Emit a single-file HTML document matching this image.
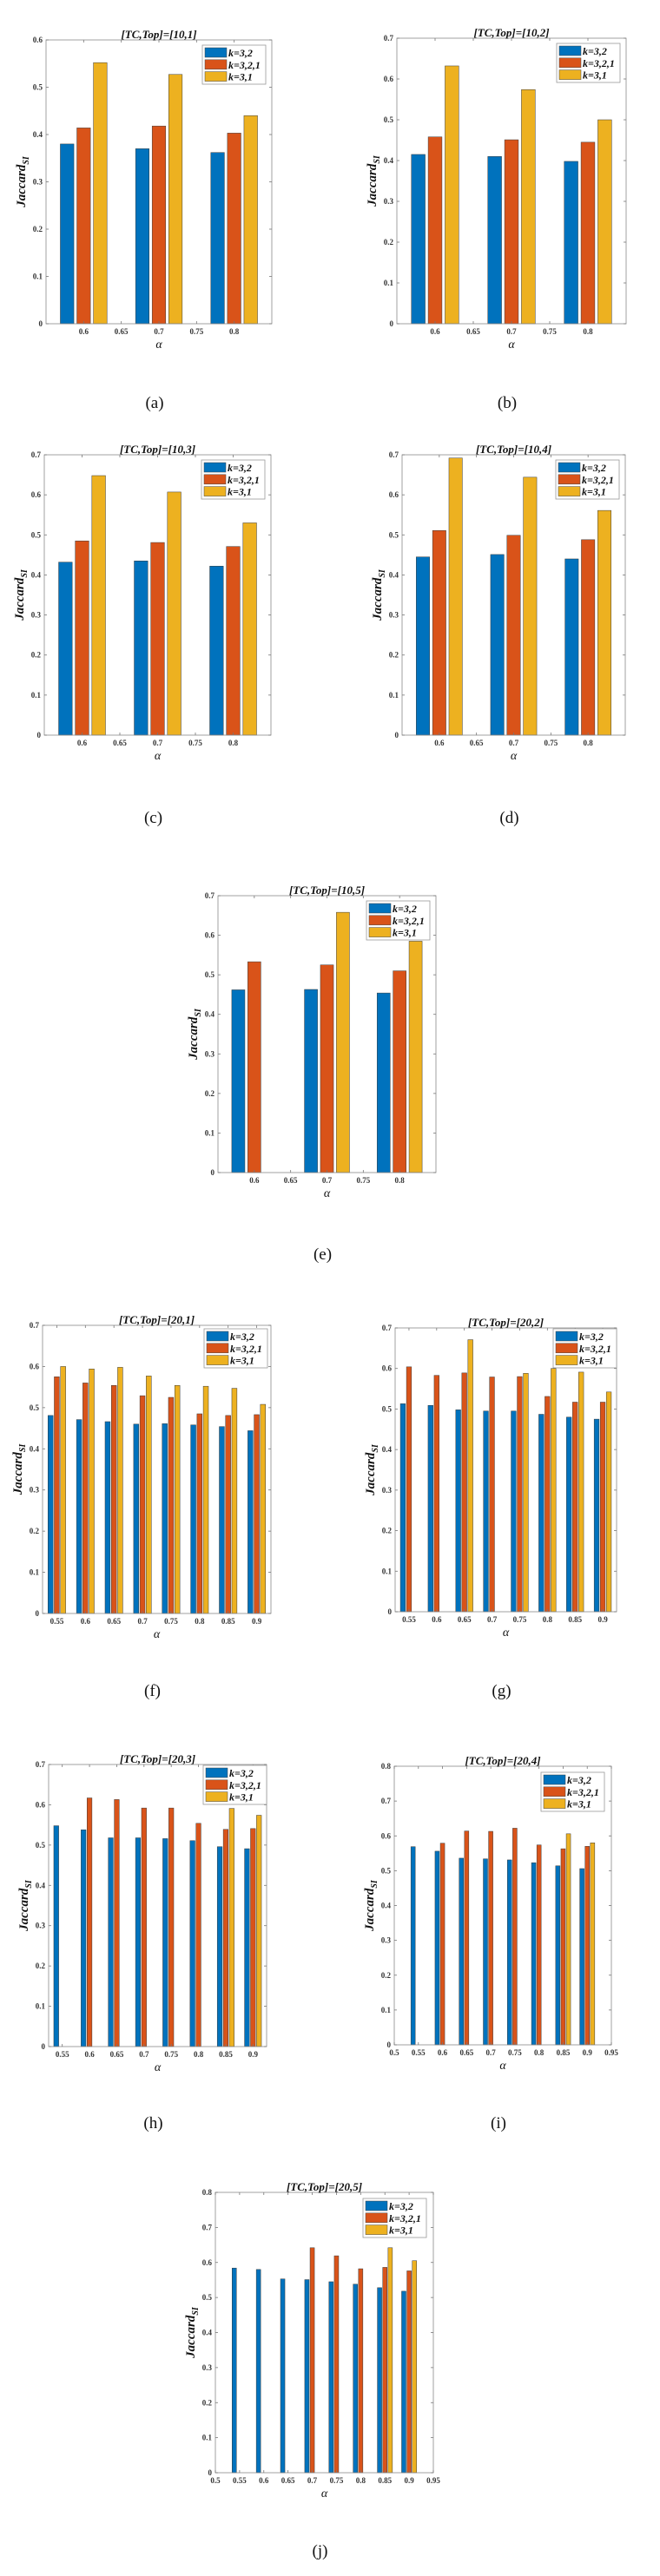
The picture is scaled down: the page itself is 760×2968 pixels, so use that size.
<!DOCTYPE html>
<html>
<head>
<meta charset="utf-8">
<style>
html,body{margin:0;padding:0;background:#fff;}
svg{display:block;}
.tick{font-family:"Liberation Serif",serif;font-weight:bold;font-size:9px;fill:#333;}
.title{font-family:"Liberation Serif",serif;font-weight:bold;font-style:italic;font-size:13px;fill:#111;}
.leg{font-family:"Liberation Serif",serif;font-weight:bold;font-style:italic;font-size:12px;fill:#111;}
.ylab{font-family:"Liberation Serif",serif;font-weight:bold;font-style:italic;font-size:15px;fill:#111;}
.xlab{font-family:"Liberation Serif",serif;font-style:italic;font-size:14px;fill:#111;}
.cap{font-family:"Liberation Serif",serif;font-size:19px;fill:#111;}
</style>
</head>
<body>
<svg id="fig" xmlns="http://www.w3.org/2000/svg" width="760" height="2968" viewBox="0 0 760 2968"></svg>
<script>
// ---- data ----
const seriesNames = ["k=3,2","k=3,2,1","k=3,1"];
const colors = ["#0072BD","#D95319","#EDB120"];

const catsA = [0.6,0.7,0.8];
const catsB = [0.55,0.6,0.65,0.7,0.75,0.8,0.85,0.9];

const xticks3 = ["0.6","0.65","0.7","0.75","0.8"];
const xticks8 = ["0.55","0.6","0.65","0.7","0.75","0.8","0.85","0.9"];
const xticks10 = ["0.5","0.55","0.6","0.65","0.7","0.75","0.8","0.85","0.9","0.95"];
const yticks6 = ["0","0.1","0.2","0.3","0.4","0.5","0.6"];
const yticks7 = ["0","0.1","0.2","0.3","0.4","0.5","0.6","0.7"];
const yticks8 = ["0","0.1","0.2","0.3","0.4","0.5","0.6","0.7","0.8"];

const a_s1 = [0.380,0.370,0.362];
const a_s2 = [0.414,0.418,0.403];
const a_s3 = [0.552,0.527,0.440];

const b_s1 = [0.415,0.410,0.398];
const b_s2 = [0.458,0.451,0.445];
const b_s3 = [0.632,0.574,0.500];

const c_s1 = [0.432,0.435,0.422];
const c_s2 = [0.485,0.481,0.471];
const c_s3 = [0.648,0.607,0.530];

const d_s1 = [0.445,0.451,0.440];
const d_s2 = [0.511,0.499,0.488];
const d_s3 = [0.692,0.644,0.561];

const e_s1 = [0.462,0.463,0.454];
const e_s2 = [0.533,0.525,0.510];
const e_s3 = [0,0.658,0.585];

const f_s1 = [0.481,0.471,0.466,0.460,0.461,0.458,0.454,0.444];
const f_s2 = [0.575,0.560,0.554,0.529,0.525,0.485,0.481,0.483];
const f_s3 = [0.600,0.594,0.598,0.577,0.554,0.552,0.547,0.508];

const g_s1 = [0.513,0.509,0.498,0.495,0.495,0.487,0.480,0.475];
const g_s2 = [0.604,0.583,0.589,0.579,0.580,0.531,0.517,0.517];
const g_s3 = [0,0,0.671,0,0.588,0.600,0.591,0.542];

const h_s1 = [0.548,0.538,0.518,0.518,0.516,0.511,0.496,0.491];
const h_s2 = [0,0.617,0.613,0.592,0.592,0.554,0.539,0.541];
const h_s3 = [0,0,0,0,0,0,0.591,0.574];

const i_s1 = [0.569,0.556,0.536,0.534,0.531,0.523,0.514,0.506];
const i_s2 = [0,0.579,0.614,0.613,0.622,0.574,0.563,0.570];
const i_s3 = [0,0,0,0,0,0,0.606,0.580];

const j_s1 = [0.584,0.580,0.553,0.551,0.545,0.538,0.528,0.518];
const j_s2 = [0,0,0,0.642,0.619,0.582,0.586,0.576];
const j_s3 = [0,0,0,0,0,0,0.642,0.605];

const svg = document.getElementById('fig');
const NS = "http://www.w3.org/2000/svg";
function mk(tag, attrs, parent){
  const e = document.createElementNS(NS, tag);
  for (const k in attrs) e.setAttribute(k, attrs[k]);
  (parent||svg).appendChild(e);
  return e;
}

function chart(cfg){
  const g = mk('g', {});
  
  
  const L=cfg.L, R=cfg.R, T=cfg.T, B=cfg.B;
  const xs = v => L + (v - cfg.xmin)/(cfg.xmax - cfg.xmin)*(R-L);
  const ys = v => B - v/cfg.ymax*(B-T);
  const spacing = cfg.cats.length>1 ? (cfg.cats[1]-cfg.cats[0]) : 0.1;
  const off = 0.22*spacing, bw = 0.18*spacing;
  const series = [cfg.s1, cfg.s2, cfg.s3];
  series.forEach((vals, si) => {
    vals.forEach((v, ci) => {
      if (v <= 0) return;
      const cx = cfg.cats[ci] + (si-1)*off;
      const x0 = xs(cx - bw/2), x1 = xs(cx + bw/2);
      const r = mk('rect', {x:x0, y:ys(v), width:x1-x0, height:ys(0)-ys(v), fill:colors[si], stroke:'#3a3a3a', 'stroke-width':0.5}, g);
      
      
    });
  });
  const box = mk('rect', {x:L, y:T, width:R-L, height:B-T, fill:'none', stroke:'#8a8a8a', 'stroke-width':0.8}, g);
  
  
  cfg.yt.forEach(t => {
    const v = parseFloat(t), y = ys(v);
    mk('line', {x1:L, x2:L+3, y1:y, y2:y, stroke:'#777', 'stroke-width':0.8}, g);
    mk('line', {x1:R, x2:R-3, y1:y, y2:y, stroke:'#777', 'stroke-width':0.8}, g);
    const tx = mk('text', {x:L-4, y:y+3, 'text-anchor':'end', class:'tick'}, g);
    tx.textContent = t;
    
    
  });
  cfg.xt.forEach(t => {
    const v = parseFloat(t), x = xs(v);
    mk('line', {x1:x, x2:x, y1:B, y2:B-3, stroke:'#777', 'stroke-width':0.8}, g);
    mk('line', {x1:x, x2:x, y1:T, y2:T+3, stroke:'#777', 'stroke-width':0.8}, g);
    const tx = mk('text', {x:x, y:B+12, 'text-anchor':'middle', class:'tick'}, g);
    tx.textContent = t;
    
    
  });
  const ti = mk('text', {x:(L+R)/2, y:T-2, 'text-anchor':'middle', class:'title'}, g);
  ti.textContent = cfg.title;
  
  
  const xl = mk('text', {x:(L+R)/2, y:B+28, 'text-anchor':'middle', class:'xlab'}, g);
  xl.textContent = 'α';
  
  
  const yx = L-24, yy = (T+B)/2;
  const yl = mk('text', {x:yx, y:yy, 'text-anchor':'middle', class:'ylab', transform:'rotate(-90 '+yx+' '+yy+')'}, g);
  yl.textContent = 'Jaccard';
  const sub = mk('tspan', {'font-size':'10px', dy:'4'}, yl);
  sub.textContent = 'SI';
  
  
  const lw = 73, lh = 45;
  const lx = R - cfg.legR - lw, ly = T + cfg.legT;
  const lg = mk('g', {}, g);
  
  
  mk('rect', {x:lx, y:ly, width:lw, height:lh, fill:'#fff', stroke:'#999', 'stroke-width':0.8}, lg);
  seriesNames.forEach((n, i) => {
    const ey = ly + 3 + i*13.8;
    const sw = mk('rect', {x:lx+3, y:ey, width:25, height:11, fill:colors[i], stroke:'#444', 'stroke-width':0.5}, lg);
    
    
    const lt = mk('text', {x:lx+30, y:ey+10, class:'leg'}, lg);
    lt.textContent = n;
    
    
  });
  const cp = mk('text', {x:(L+R)/2 - 5, y:cfg.cap, 'text-anchor':'middle', class:'cap'}, g);
  cp.textContent = '(' + cfg.id + ')';
  
  
}

const three = {cats:catsA, xt:xticks3, xmin:0.55, xmax:0.85, legR:7, legT:6};
chart(Object.assign({}, three, {id:'a', title:'[TC,Top]=[10,1]', L:53, R:313, T:46, B:373, ymax:0.6, yt:yticks6, s1:a_s1, s2:a_s2, s3:a_s3, cap:470}));
chart(Object.assign({}, three, {id:'b', title:'[TC,Top]=[10,2]', L:457, R:721, T:44, B:373, ymax:0.7, yt:yticks7, s1:b_s1, s2:b_s2, s3:b_s3, cap:470}));
chart(Object.assign({}, three, {id:'c', title:'[TC,Top]=[10,3]', L:51, R:312, T:524, B:847, ymax:0.7, yt:yticks7, s1:c_s1, s2:c_s2, s3:c_s3, cap:948}));
chart(Object.assign({}, three, {id:'d', title:'[TC,Top]=[10,4]', L:463, R:720, T:524, B:847, ymax:0.7, yt:yticks7, s1:d_s1, s2:d_s2, s3:d_s3, cap:948}));
chart(Object.assign({}, three, {id:'e', title:'[TC,Top]=[10,5]', L:251, R:502, T:1032, B:1351, ymax:0.7, yt:yticks7, s1:e_s1, s2:e_s2, s3:e_s3, cap:1451}));
const eight = {cats:catsB, xt:xticks8, xmin:0.525, xmax:0.925, legR:4, legT:4};
chart(Object.assign({}, eight, {id:'f', title:'[TC,Top]=[20,1]', L:49, R:312, T:1527, B:1859, ymax:0.7, yt:yticks7, s1:f_s1, s2:f_s2, s3:f_s3, cap:1954}));
chart(Object.assign({}, eight, {id:'g', title:'[TC,Top]=[20,2]', L:455, R:710, T:1530, B:1857, ymax:0.7, yt:yticks7, s1:g_s1, s2:g_s2, s3:g_s3, cap:1954, legR:0, legT:1}));
chart(Object.assign({}, eight, {id:'h', title:'[TC,Top]=[20,3]', L:56, R:307, T:2033, B:2358, ymax:0.7, yt:yticks7, s1:h_s1, s2:h_s2, s3:h_s3, cap:2452, legR:0, legT:1}));
const ten = {cats:catsB, xt:xticks10, xmin:0.5, xmax:0.95, legR:8, legT:7};
chart(Object.assign({}, ten, {id:'i', title:'[TC,Top]=[20,4]', L:454, R:704, T:2035, B:2356, ymax:0.8, yt:yticks8, s1:i_s1, s2:i_s2, s3:i_s3, cap:2452}));
chart(Object.assign({}, ten, {id:'j', title:'[TC,Top]=[20,5]', L:248, R:499, T:2526, B:2849, ymax:0.8, yt:yticks8, s1:j_s1, s2:j_s2, s3:j_s3, cap:2945}));
</script>
</body>
</html>
